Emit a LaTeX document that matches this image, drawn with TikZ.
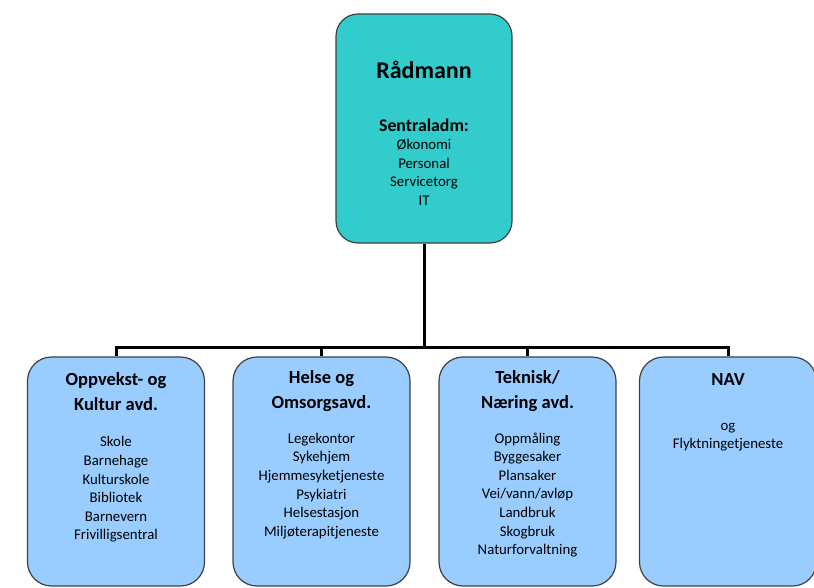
\documentclass[tikz,border=0pt]{standalone}
\usepackage{fontspec}
\setmainfont{Carlito}
\begin{document}
\begin{tikzpicture}[
        x=1pt, y=-1pt,
        topbox/.style={draw=black!75, line width=1.2pt, fill={rgb,255:red,51;green,204;blue,204}, rounded corners=22pt, minimum width=176pt, minimum height=229pt, inner sep=0pt},
        deptbox/.style={draw=black!75, line width=1.2pt, fill={rgb,255:red,153;green,204;blue,255}, rounded corners=24pt, minimum width=177pt, minimum height=229pt, inner sep=0pt},
        head/.style={align=center, inner sep=0pt, font=\fontsize{18.5}{25}\selectfont\bfseries},
        items/.style={align=center, inner sep=0pt, font=\fontsize{14.8}{18.6}\selectfont},
        bus/.style={line width=3pt, black, line join=miter}
    ]
    \useasboundingbox (0,0) rectangle (814,587);

    % --- Rådmann ---
    \node[topbox] (raadmann) at (424,128.5) {};
    \node[inner sep=0pt, font=\fontsize{24}{26}\selectfont\bfseries] (raadmanntitle) at (424,70) {Rådmann};
    \node[items] (sentral) at (424,162) {{\fontsize{17.8}{18.6}\selectfont\bfseries Sentraladm:}\\Økonomi\\Personal\\Servicetorg\\IT};

    % --- Avdelinger ---
    \node[deptbox] (oppvekst) at (116,471.5) {};
    \node[head] (oppvekst-head) at (116,391.5) {Oppvekst- og\\Kultur avd.};
    \node[items] (oppvekst-items) at (116,489.5) {Skole\\Barnehage\\Kulturskole\\Bibliotek\\Barnevern\\Frivilligsentral};

    \node[deptbox] (helse) at (321.5,471.5) {};
    \node[head] (helse-head) at (321.5,391.5) {Helse og\\Omsorgsavd.};
    \node[items] (helse-items) at (321.5,486) {Legekontor\\Sykehjem\\Hjemmesyketjeneste\\Psykiatri\\Helsestasjon\\Miljøterapitjeneste};

    \node[deptbox] (teknisk) at (527.5,471.5) {};
    \node[head] (teknisk-head) at (527.5,391.5) {Teknisk/\\Næring avd.};
    \node[items] (teknisk-items) at (527.5,495) {Oppmåling\\Byggesaker\\Plansaker\\Vei/vann/avløp\\Landbruk\\Skogbruk\\Naturforvaltning};

    \node[deptbox] (nav) at (728,471.5) {};
    \node[head] (nav-head) at (728,379) {NAV};
    \node[items] (nav-items) at (728,437) {og\\Flyktningetjeneste};

    % --- Linjer ---
    \coordinate (bus) at (424,347);
    \draw[bus] (raadmann.south) -- (bus);
    \foreach \avd in {oppvekst,helse,teknisk,nav}
        \draw[bus] (\avd.north) |- (bus);

\end{tikzpicture}
\end{document}
